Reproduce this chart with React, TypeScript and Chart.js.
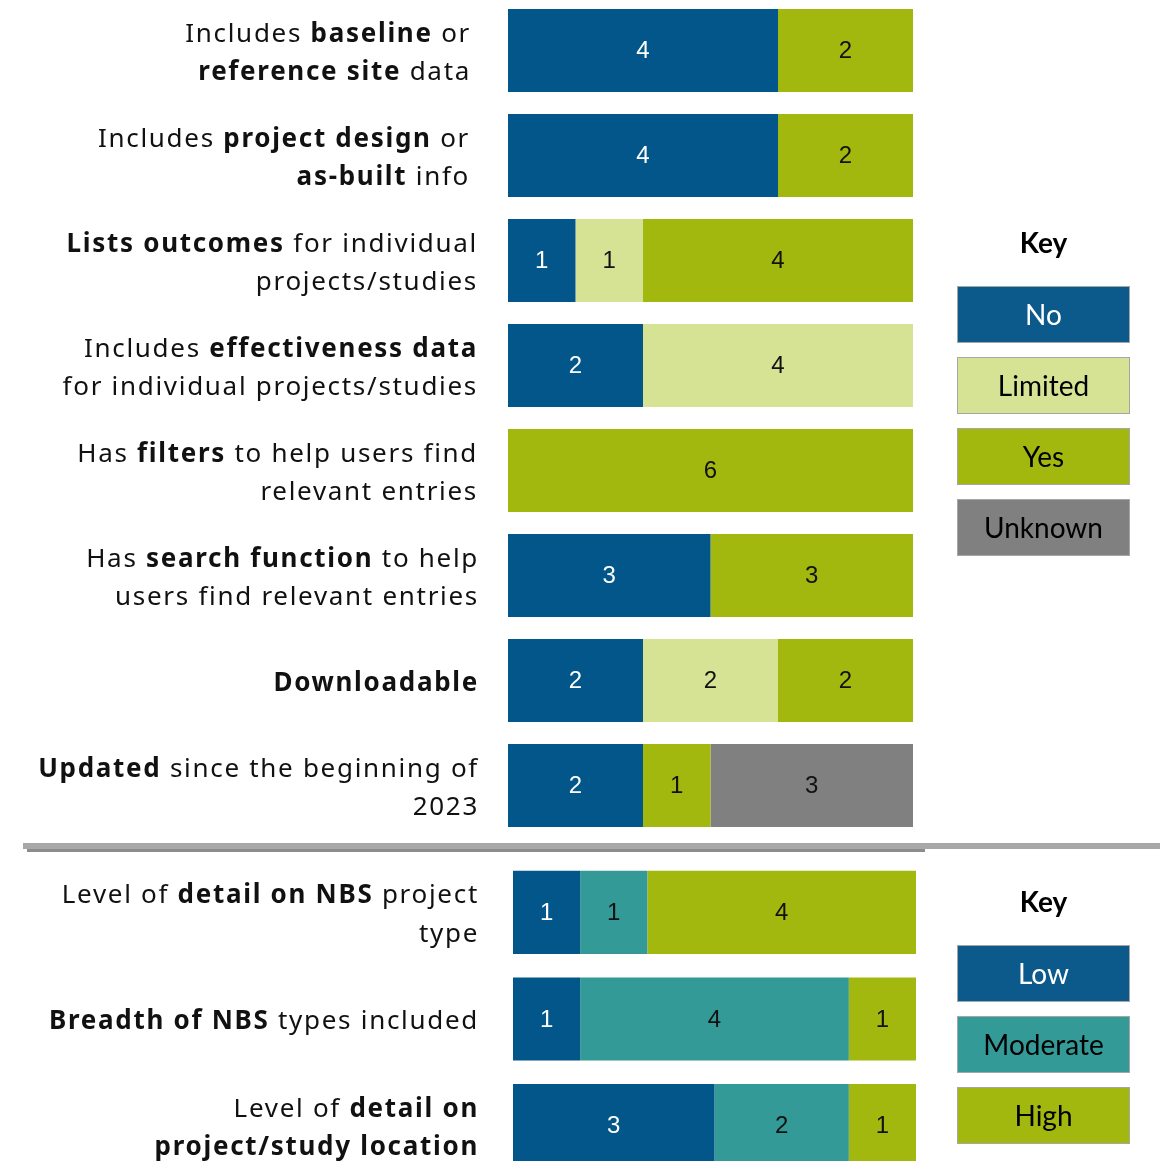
import React, { useEffect, useRef } from "react";
import { Chart, registerables } from "chart.js";
Chart.register(...registerables);

// ---------- DATA ----------
const topCategories = [
  "Includes **baseline** or|**reference site** data",
  "Includes **project design** or|**as-built** info",
  "**Lists outcomes** for individual|projects/studies",
  "Includes **effectiveness data**|for individual projects/studies",
  "Has **filters** to help users find|relevant entries",
  "Has **search function** to help|users find relevant entries",
  "**Downloadable**",
  "**Updated** since the beginning of|2023",
];
const topSeriesNames = ["No", "Limited", "Yes", "Unknown"];
const topNo = [4, 4, 1, 2, 0, 3, 2, 2];
const topLimited = [0, 0, 1, 4, 0, 0, 2, 0];
const topYes = [2, 2, 4, 0, 6, 3, 2, 1];
const topUnknown = [0, 0, 0, 0, 0, 0, 0, 3];

const bottomCategories = [
  "Level of **detail on NBS** project|type",
  "**Breadth of NBS** types included",
  "Level of **detail on**|**project/study location**",
];
const bottomSeriesNames = ["Low", "Moderate", "High"];
const bottomLow = [1, 1, 3];
const bottomModerate = [1, 4, 2];
const bottomHigh = [4, 1, 1];

const xMax = 6;

// ---------- STYLE ----------
const BLUE = "#03568A";
const LIMITED = "#D7E394";
const GREEN = "#A2B80F";
const GREY = "#808080";
const TEAL = "#339A98";
const LEGEND_BLUE = "#0B5A8B";

const LABEL_FONT = "'Noto Sans', sans-serif";
const VALUE_FONT = "'Liberation Sans', Arial, sans-serif";
const KEY_FONT = "Lato, 'Noto Sans', sans-serif";

type Geo = {
  top: number;
  height: number;
  left: number;
  right: number;
  labelRights: number[];
  barPct: number;
  keyY: number;
  boxTop: number;
};

function drawRich(ctx: CanvasRenderingContext2D, text: string, rightX: number, cy: number) {
  const size = 26;
  const lineH = 38.5;
  const lines = text.split("|");
  const n = lines.length;
  ctx.textBaseline = "middle";
  ctx.textAlign = "left";
  ctx.fillStyle = "#111111";
  (ctx as any).letterSpacing = "1.7px";
  lines.forEach((line, li) => {
    const parts = line.split("**");
    const widths = parts.map((p, i) => {
      ctx.font = `${i % 2 ? "bold" : "normal"} ${size}px ${LABEL_FONT}`;
      return ctx.measureText(p).width;
    });
    const total = widths.reduce((a, b) => a + b, 0);
    let x = rightX - total;
    const y = cy + (li - (n - 1) / 2) * lineH;
    parts.forEach((p, i) => {
      ctx.font = `${i % 2 ? "bold" : "normal"} ${size}px ${LABEL_FONT}`;
      ctx.fillText(p, x, y);
      x += widths[i];
    });
  });
  (ctx as any).letterSpacing = "0px";
}

function Panel(props: {
  categories: string[];
  names: string[];
  series: number[][];
  colors: string[];
  textColors: string[];
  legendColors: string[];
  legendTextColors: string[];
  geo: Geo;
}) {
  const ref = useRef<HTMLCanvasElement | null>(null);
  useEffect(() => {
    const canvas = ref.current!;
    const g = props.geo;
    const plugin = {
      id: "custom",
      afterDatasetsDraw(chart: any) {
        const ctx: CanvasRenderingContext2D = chart.ctx;
        ctx.save();
        // values inside bars
        chart.data.datasets.forEach((ds: any, di: number) => {
          const meta = chart.getDatasetMeta(di);
          meta.data.forEach((el: any, j: number) => {
            const v = ds.data[j];
            if (!v) return;
            ctx.font = `normal 24px ${VALUE_FONT}`;
            ctx.fillStyle = props.textColors[di];
            ctx.textAlign = "center";
            ctx.textBaseline = "middle";
            ctx.fillText(String(v), (el.x + el.base) / 2, el.y + 1);
          });
        });
        // category labels
        const y = chart.scales.y;
        props.categories.forEach((c, i) => {
          drawRich(ctx, c, g.labelRights[i], y.getPixelForValue(i) + 3);
        });
        // key
        const kx = 957, kw = 173, kh = 57, pitch = 71;
        ctx.font = `bold 28px ${KEY_FONT}`;
        ctx.fillStyle = "#000";
        ctx.textAlign = "center";
        ctx.textBaseline = "middle";
        ctx.fillText("Key", kx + kw / 2, g.keyY - g.top);
        props.names.forEach((nm, i) => {
          const by = g.boxTop - g.top + i * pitch;
          ctx.fillStyle = props.legendColors[i];
          ctx.fillRect(kx, by, kw, kh);
          ctx.strokeStyle = "#A6A6A6";
          ctx.lineWidth = 1;
          ctx.strokeRect(kx + 0.5, by + 0.5, kw - 1, kh - 1);
          ctx.font = `normal 28px ${KEY_FONT}`;
          ctx.fillStyle = props.legendTextColors[i];
          ctx.fillText(nm, kx + kw / 2, by + kh / 2 + 1);
        });
        ctx.restore();
      },
    };
    const chart = new Chart(canvas, {
      type: "bar",
      data: {
        labels: props.categories,
        datasets: props.series.map((d, i) => ({
          label: props.names[i],
          data: d.map((v) => (v === 0 ? null : v)),
          backgroundColor: props.colors[i],
          borderWidth: 0,
          barPercentage: g.barPct,
          categoryPercentage: 1,
        })),
      },
      options: {
        indexAxis: "y",
        responsive: false,
        animation: false,
        maintainAspectRatio: false,
        layout: { padding: { left: g.left, right: 1160 - g.right, top: 0, bottom: 0 } },
        scales: {
          x: { stacked: true, min: 0, max: xMax, display: false },
          y: { stacked: true, display: false },
        },
        plugins: { legend: { display: false }, tooltip: { enabled: false } },
      } as any,
      plugins: [plugin],
    });
    return () => chart.destroy();
  }, []);
  const g = props.geo;
  return (
    <canvas
      ref={ref}
      width={1160}
      height={g.height}
      style={{ position: "absolute", left: 0, top: g.top, width: 1160, height: g.height }}
    />
  );
}

export default function App() {
  useEffect(() => {
    document.body.style.margin = "0";
  }, []);
  return (
    <div style={{ position: "relative", width: 1160, height: 1161, overflow: "hidden", background: "#fff" }}>
      <Panel
        categories={topCategories}
        names={topSeriesNames}
        series={[topNo, topLimited, topYes, topUnknown]}
        colors={[BLUE, LIMITED, GREEN, GREY]}
        textColors={["#ffffff", "#111111", "#111111", "#111111"]}
        legendColors={[LEGEND_BLUE, LIMITED, GREEN, GREY]}
        legendTextColors={["#ffffff", "#000000", "#000000", "#000000"]}
        geo={{
          top: -2, height: 840, left: 508, right: 913,
          labelRights: [471, 470, 478, 478, 478, 479, 479, 479],
          barPct: 0.79, keyY: 244, boxTop: 286,
        }}
      />
      <div style={{ position: "absolute", left: 27, top: 849, width: 898, height: 3, background: "#8C8C8C" }} />
      <div style={{ position: "absolute", left: 23, top: 843, width: 1137, height: 6, background: "#A8A8A8" }} />
      <Panel
        categories={bottomCategories}
        names={bottomSeriesNames}
        series={[bottomLow, bottomModerate, bottomHigh]}
        colors={[BLUE, TEAL, GREEN]}
        textColors={["#ffffff", "#111111", "#111111"]}
        legendColors={[LEGEND_BLUE, TEAL, GREEN]}
        legendTextColors={["#ffffff", "#000000", "#000000"]}
        geo={{
          top: 859, height: 320, left: 513, right: 916,
          labelRights: [479, 479, 479],
          barPct: 0.78, keyY: 903, boxTop: 945,
        }}
      />
    </div>
  );
}
